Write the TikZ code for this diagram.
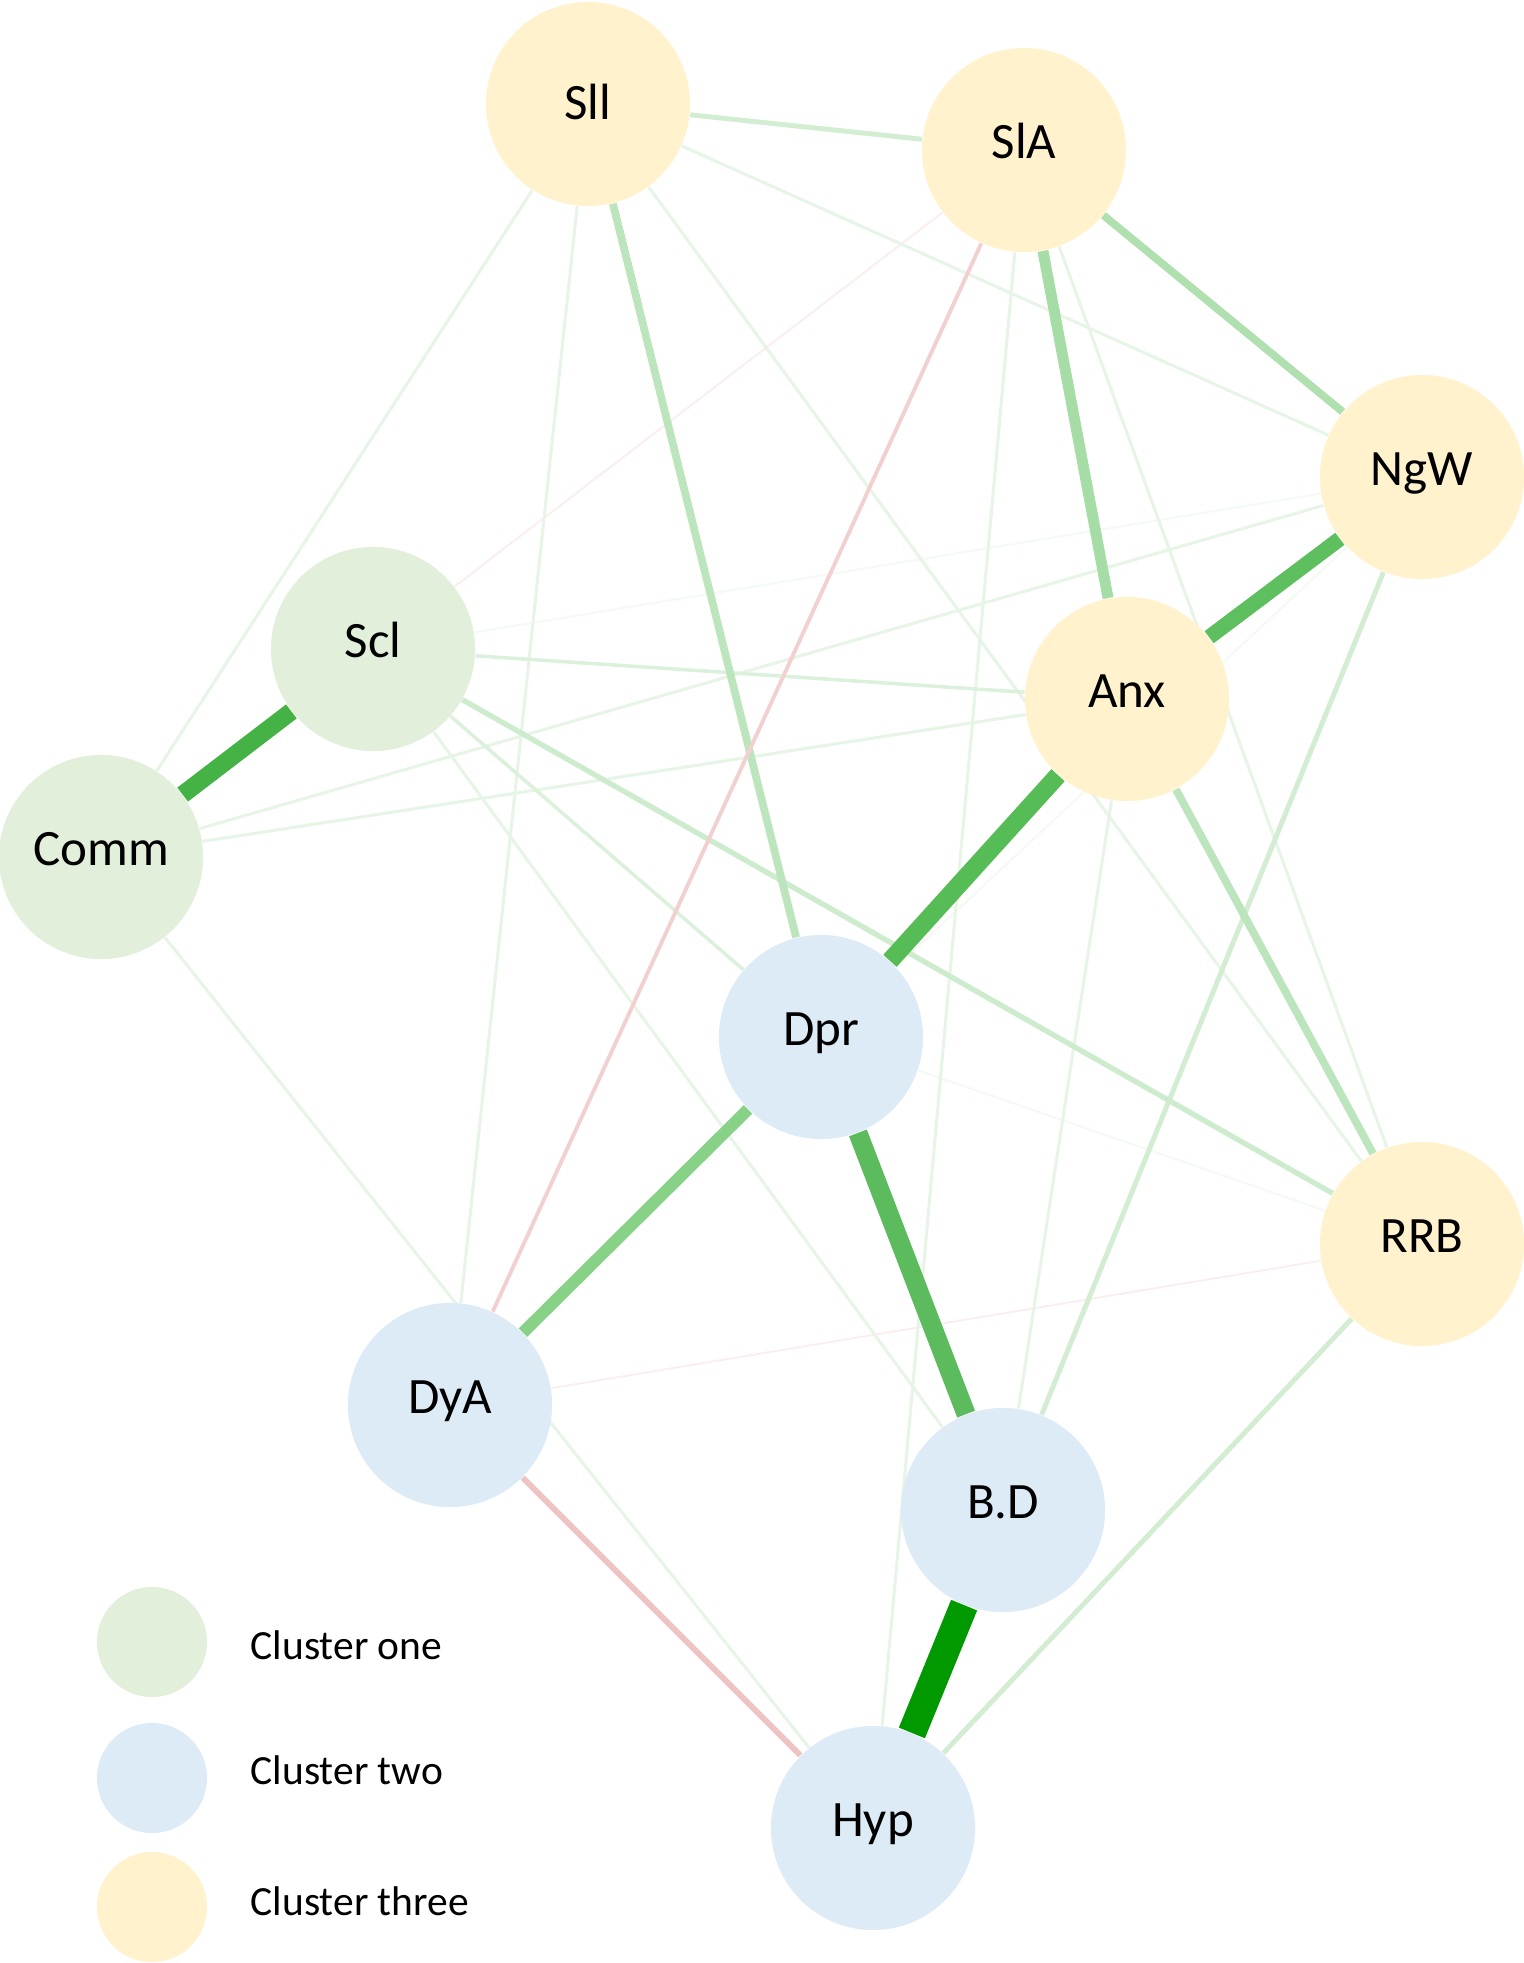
\documentclass[tikz,border=0pt]{standalone}
\usepackage{fontspec}
\setmainfont{Carlito}
\usetikzlibrary{backgrounds}

\definecolor{greenfill}{HTML}{E2EFDA}
\definecolor{bluefill}{HTML}{DDEBF7}
\definecolor{goldfill}{HTML}{FFF2CC}

\begin{document}
\begin{tikzpicture}[
                x=0.01cm, y=-0.01cm,
                factor/.style={
                    circle,
                    minimum size=2.04cm,
                    inner sep=0pt,
                    text height=0.33cm,
                    text depth=0.17cm,
                    font=\fontsize{14.5}{17}\selectfont
                },
                clusterone/.style={factor, fill=greenfill},
                clustertwo/.style={factor, fill=bluefill},
                clusterthree/.style={factor, fill=goldfill},
                keydot/.style={
                    circle,
                    minimum size=1.1cm,
                    inner sep=0pt
                },
                keytext/.style={
                    anchor=west,
                    inner sep=0pt,
                    font=\fontsize{11.8}{14}\selectfont
                },
                pos1/.style={line width=0.55pt, draw={rgb,255:red,243;green,250;blue,243}},
                pos2/.style={line width=0.85pt, draw={rgb,255:red,230;green,245;blue,230}},
                pos3/.style={line width=1pt, draw={rgb,255:red,220;green,241;blue,220}},
                pos4/.style={line width=1.4pt, draw={rgb,255:red,210;green,237;blue,210}},
                pos5/.style={line width=1.5pt, draw={rgb,255:red,205;green,235;blue,205}},
                pos6/.style={line width=2.2pt, draw={rgb,255:red,189;green,229;blue,189}},
                pos7/.style={line width=2.2pt, draw={rgb,255:red,176;green,224;blue,176}},
                pos8/.style={line width=3.1pt, draw={rgb,255:red,166;green,220;blue,166}},
                pos9/.style={line width=3.4pt, draw={rgb,255:red,136;green,210;blue,136}},
                pos10/.style={line width=4.3pt, draw={rgb,255:red,94;green,191;blue,94}},
                pos11/.style={line width=5.1pt, draw={rgb,255:red,86;green,188;blue,86}},
                pos12/.style={line width=5pt, draw={rgb,255:red,68;green,178;blue,68}},
                pos13/.style={line width=5.4pt, draw={rgb,255:red,92;green,187;blue,92}},
                pos14/.style={line width=8pt, draw={rgb,255:red,0;green,154;blue,0}},
                neg1/.style={line width=0.55pt, draw={rgb,255:red,251;green,238;blue,238}},
                neg2/.style={line width=1.1pt, draw={rgb,255:red,242;green,208;blue,208}},
                neg3/.style={line width=1.7pt, draw={rgb,255:red,239;green,195;blue,195}}
            ]

    \useasboundingbox (0,0) rectangle (1524,1963);

    % cluster three
    \node[clusterthree, text depth=0.02cm] (Sll) at (588,104)  {Sll};
    \node[clusterthree] (SlA) at (1024,150) {SlA};
    \node[clusterthree] (NgW) at (1422,477) {NgW};
    \node[clusterthree] (Anx) at (1127,699) {Anx};
    \node[clusterthree] (RRB) at (1422,1244) {RRB};
    % cluster one
    \node[clusterone] (Scl)  at (373,649) {Scl};
    \node[clusterone] (Comm) at (101,857) {Comm};
    % cluster two
    \node[clustertwo] (Dpr) at (821,1037)  {Dpr};
    \node[clustertwo] (DyA) at (450,1405)  {DyA};
    \node[clustertwo] (BD)  at (1003,1510) {B.D};
    \node[clustertwo] (Hyp) at (873,1828)  {Hyp};

    % legend
    \node[keydot, fill=greenfill] (keyone)   at (152,1642) {};
    \node[keydot, fill=bluefill]  (keytwo)   at (152,1778) {};
    \node[keydot, fill=goldfill]  (keythree) at (152,1907) {};
    \node[keytext] (keyonetext)   at (250,1645) {Cluster one};
    \node[keytext] (keytwotext)   at (250,1770) {Cluster two};
    \node[keytext] (keythreetext) at (250,1901) {Cluster three};

    \begin{pgfonlayer}{background}
        \fill[white] (0,0) rectangle (1524,1963);

        % very weak links
        \draw[pos1] (Scl) -- (NgW);
        \draw[pos1] (NgW) -- (Dpr);
        \draw[pos1] (Dpr) -- (RRB);
        \draw[neg1] (Scl) -- (SlA);
        \draw[neg1] (DyA) -- (RRB);

        % weak links
        \draw[pos2] (Sll) -- (Comm);
        \draw[pos2] (Sll) -- (DyA);
        \draw[pos2] (Sll) -- (NgW);
        \draw[pos2] (Sll) -- (RRB);
        \draw[pos2] (SlA) -- (RRB);
        \draw[pos2] (SlA) -- (Hyp);
        \draw[pos2] (Comm) -- (NgW);
        \draw[pos2] (Comm) -- (Anx);
        \draw[pos2] (Comm) -- (Hyp);
        \draw[pos2] (Scl) -- (BD);
        \draw[pos2] (Anx) -- (BD);

        % medium links
        \draw[pos3] (Scl) -- (Anx);
        \draw[pos3] (Scl) -- (Dpr);
        \draw[pos4] (Sll) -- (SlA);
        \draw[pos4] (NgW) -- (BD);
        \draw[pos4] (RRB) -- (Hyp);
        \draw[pos5] (Scl) -- (RRB);
        \draw[pos6] (Sll) -- (Dpr);
        \draw[pos6] (Anx) -- (RRB);
        \draw[pos7] (SlA) -- (NgW);
        \draw[pos8] (SlA) -- (Anx);
        \draw[neg2] (SlA) -- (DyA);
        \draw[neg3] (DyA) -- (Hyp);

        % strong links
        \draw[pos9]  (Dpr) -- (DyA);
        \draw[pos10] (NgW) -- (Anx);
        \draw[pos11] (Anx) -- (Dpr);
        \draw[pos12] (Comm) -- (Scl);
        \draw[pos13] (Dpr) -- (BD);
        \draw[pos14] (BD) -- (Hyp);
    \end{pgfonlayer}
\end{tikzpicture}
\end{document}
